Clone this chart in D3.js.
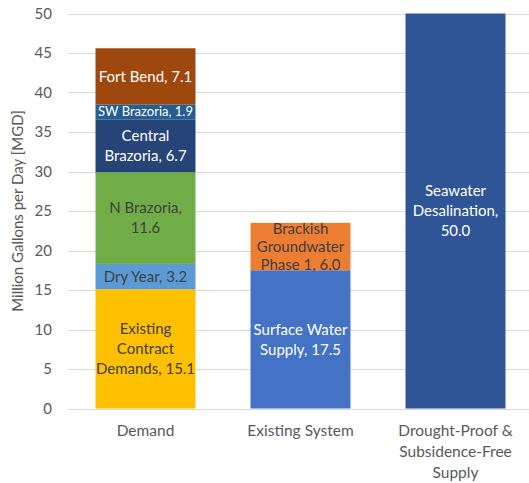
<!DOCTYPE html>
<html>
<head>
<meta charset="utf-8">
<script src="https://cdn.jsdelivr.net/npm/d3@7"></script>
<style>
  body { margin: 0; background: #fff; }
  svg { display: block; font-family: Lato, "Open Sans", sans-serif; }
</style>
</head>
<body>
<svg id="chart" width="529" height="483"></svg>
<script>
// categories on the x axis, each one can wrap on several lines
var categories = ['Demand', 'Existing System', 'Drought-Proof & Subsidence-Free Supply'];
var categoryLines = [['Demand'], ['Existing System'], ['Drought-Proof &', 'Subsidence-Free', 'Supply']];

// stacked segments, bottom to top, per category
var segCategory = ['Demand', 'Demand', 'Demand', 'Demand', 'Demand', 'Demand',
                   'Existing System', 'Existing System',
                   'Drought-Proof & Subsidence-Free Supply'];
var segNames = ['Existing Contract Demands', 'Dry Year', 'N Brazoria', 'Central Brazoria',
                'SW Brazoria', 'Fort Bend', 'Surface Water Supply', 'Brackish Groundwater Phase 1',
                'Seawater Desalination'];
var segValues = [15.1, 3.2, 11.6, 6.7, 1.9, 7.1, 17.5, 6.0, 50.0];
var segLabelLines = [
    ['Existing', 'Contract', 'Demands, 15.1'],
    ['Dry Year, 3.2'],
    ['N Brazoria,', '11.6'],
    ['Central', 'Brazoria, 6.7'],
    ['SW Brazoria, 1.9'],
    ['Fort Bend, 7.1'],
    ['Surface Water', 'Supply, 17.5'],
    ['Brackish', 'Groundwater', 'Phase 1, 6.0'],
    ['Seawater', 'Desalination,', '50.0']
];
var segColors = ['#FFC000', '#5B9BD5', '#70AD47', '#264478', '#255E91', '#9E480E',
                 '#4472C4', '#ED7D31', '#2F5597'];
var segTextColors = ['#404040', '#404040', '#404040', '#fff', '#fff', '#fff',
                     '#fff', '#404040', '#fff'];

var yTicks = [0, 5, 10, 15, 20, 25, 30, 35, 40, 45, 50];

var svg = d3.select('#chart');
var plotLeft = 68, plotRight = 533, plotTop = 13.5, plotBottom = 408.5;

var x = d3.scaleBand()
    .domain(categories)
    .range([plotLeft, plotRight])
    .paddingInner(0.355)
    .paddingOuter(0.1775);

var y = d3.scaleLinear()
    .domain([0, 50])
    .range([plotBottom, plotTop]);

// gridlines
svg.append('g')
    .selectAll('line')
    .data(yTicks)
    .join('line')
    .attr('x1', plotLeft)
    .attr('x2', 529)
    .attr('y1', function (d) { return Math.round(y(d)) + 0.5; })
    .attr('y2', function (d) { return Math.round(y(d)) + 0.5; })
    .attr('stroke', '#D9D9D9')
    .attr('stroke-width', 1);

// y axis tick labels
var yAxis = d3.axisLeft(y).tickValues(yTicks).tickSize(0).tickPadding(16);
svg.append('g')
    .attr('transform', 'translate(' + plotLeft + ',0)')
    .call(yAxis)
    .call(function (g) { g.select('.domain').remove(); })
    .selectAll('text')
    .attr('fill', '#595959')
    .style('font-size', '15px')
    .style('font-family', 'Lato, sans-serif');

// y axis title
svg.append('text')
    .attr('transform', 'translate(23,' + ((plotTop + plotBottom) / 2) + ') rotate(-90)')
    .attr('text-anchor', 'middle')
    .attr('fill', '#595959')
    .style('font-size', '15px')
    .text('Million Gallons per Day [MGD]');

// stack the segments per category
var segs = [];
var base = {};
segValues.forEach(function (v, i) {
    var c = segCategory[i];
    var y0 = base[c] || 0;
    segs.push({ cat: c, y0: y0, y1: y0 + v, i: i });
    base[c] = y0 + v;
});

svg.append('g')
    .selectAll('rect')
    .data(segs)
    .join('rect')
    .attr('x', function (d) { return x(d.cat); })
    .attr('width', x.bandwidth())
    .attr('y', function (d) { return y(d.y1); })
    .attr('height', function (d) { return y(d.y0) - y(d.y1); })
    .attr('fill', function (d) { return segColors[d.i]; });

// labels inside segments
var labels = svg.append('g')
    .selectAll('text')
    .data(segs)
    .join('text')
    .attr('text-anchor', 'middle')
    .attr('fill', function (d) { return segTextColors[d.i]; })
    .style('font-size', function (d) { return d.i === 4 ? '13px' : '15px'; });

labels.each(function (d) {
    var lines = segLabelLines[d.i];
    var lh = d.i === 7 ? 18 : 20;
    var cx = x(d.cat) + x.bandwidth() / 2;
    var cy = y((d.y0 + d.y1) / 2) - (lines.length - 1) * lh / 2;
    d3.select(this).selectAll('tspan')
        .data(lines)
        .join('tspan')
        .attr('x', cx)
        .attr('y', function (t, k) { return cy + k * lh; })
        .attr('dy', '0.35em')
        .text(function (t) { return t; });
});

// category labels
svg.append('g')
    .selectAll('text')
    .data(categories)
    .join('text')
    .attr('text-anchor', 'middle')
    .attr('fill', '#595959')
    .style('font-size', '15.5px')
    .each(function (c, i) {
        var cx = x(c) + x.bandwidth() / 2;
        d3.select(this).selectAll('tspan')
            .data(categoryLines[i])
            .join('tspan')
            .attr('x', cx)
            .attr('y', function (t, k) { return 431 + k * 21; })
            .attr('dy', '0.35em')
            .text(function (t) { return t; });
    });
</script>
</body>
</html>
